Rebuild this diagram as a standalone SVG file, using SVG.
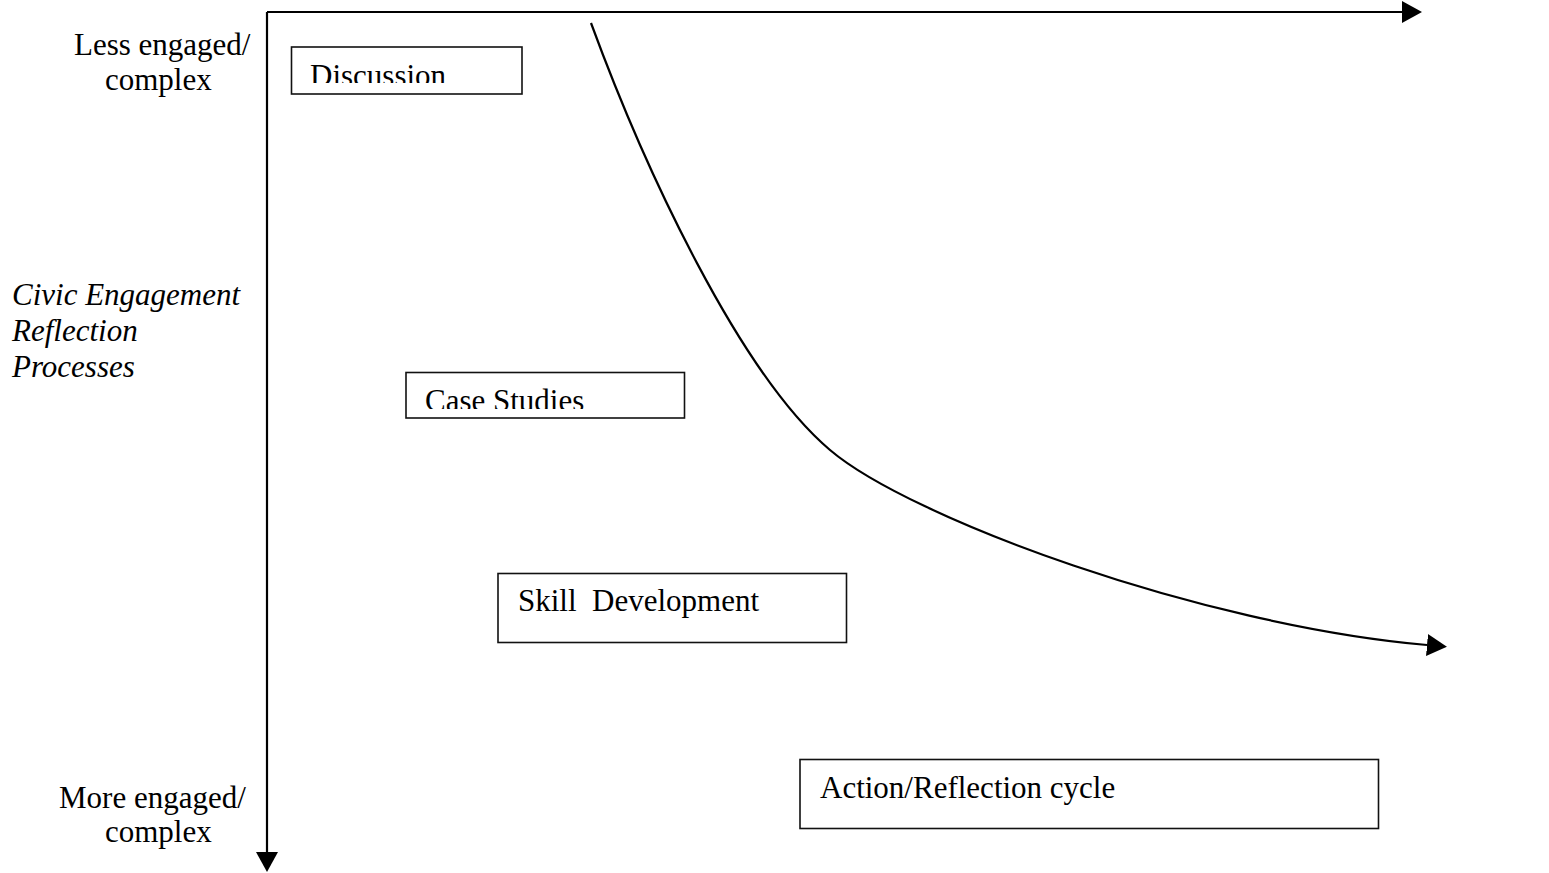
<svg xmlns="http://www.w3.org/2000/svg" width="1549" height="873" viewBox="0 0 1549 873">
  <style>
    .lbl { font-family: "Liberation Serif", "Times New Roman", serif; font-size: 31px; fill: #000; }
    .it { font-style: italic; }
    .box { fill: #fff; stroke: #111; stroke-width: 1.6; }
    .axis { fill: none; stroke: #000; stroke-width: 2.2; }
    .curve { fill: none; stroke: #000; stroke-width: 2.2; }
  </style>
  <defs>
    <marker id="tri" viewBox="0 0 20 22" refX="0" refY="11" markerWidth="20" markerHeight="22" markerUnits="userSpaceOnUse" orient="auto">
      <path d="M0,0 L20,11 L0,22 Z" fill="#000"/>
    </marker>
    <clipPath id="clipDiscussion"><rect x="292" y="47" width="230" height="36"/></clipPath>
    <clipPath id="clipCase"><rect x="406" y="373" width="278" height="36"/></clipPath>
  </defs>

  <rect width="1549" height="873" fill="#fff"/>

  <!-- axes and trend curve -->
  <g id="connectors">
    <path class="axis" d="M267,12 H1402" marker-end="url(#tri)"/>
    <path class="axis" d="M267,12 V852" marker-end="url(#tri)"/>
    <path class="curve" d="M591,23 C645,170 740,374 830,450 C910,518 1200,625 1427,645" marker-end="url(#tri)"/>
  </g>

  <!-- axis labels -->
  <g id="label-top">
    <text class="lbl" x="74" y="55">Less engaged/</text>
    <text class="lbl" x="105" y="90">complex</text>
  </g>
  <g id="label-title">
    <text class="lbl it" x="12" y="305">Civic Engagement</text>
    <text class="lbl it" x="12" y="341">Reflection</text>
    <text class="lbl it" x="12" y="377">Processes</text>
  </g>
  <g id="label-bottom">
    <text class="lbl" x="59" y="808">More engaged/</text>
    <text class="lbl" x="105" y="842">complex</text>
  </g>

  <!-- process boxes -->
  <g id="node-discussion">
    <rect class="box" x="291.5" y="47" width="230.5" height="47"/>
    <text class="lbl" x="310" y="86" clip-path="url(#clipDiscussion)">Discussion</text>
  </g>
  <g id="node-case-studies">
    <rect class="box" x="406" y="372.5" width="278.5" height="45.5"/>
    <text class="lbl" x="425" y="411" clip-path="url(#clipCase)">Case Studies</text>
  </g>
  <g id="node-skill-development">
    <rect class="box" x="498" y="573.5" width="348.5" height="69"/>
    <text class="lbl" x="518" y="611" xml:space="preserve">Skill  Development</text>
  </g>
  <g id="node-action-reflection">
    <rect class="box" x="800" y="759.5" width="578.5" height="69"/>
    <text class="lbl" x="820" y="798">Action/Reflection cycle</text>
  </g>
</svg>
